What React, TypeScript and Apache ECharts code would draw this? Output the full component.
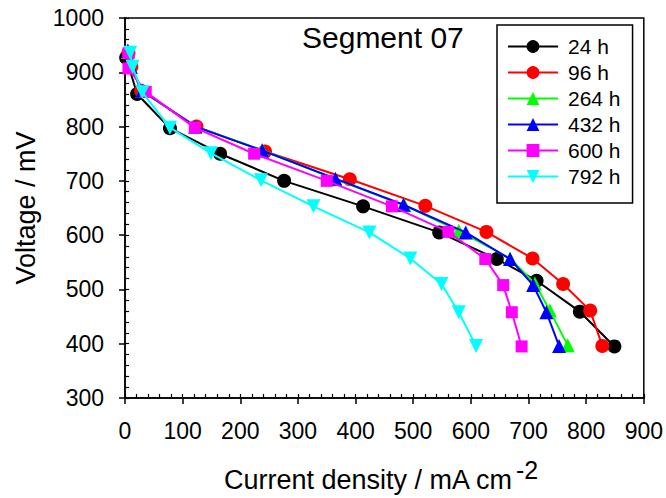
import React, { useEffect, useRef } from "react";
import * as echarts from "echarts";

const seriesNames = ["24 h", "96 h", "264 h", "432 h", "600 h", "792 h"];
const seriesColors = ["#000000", "#ff0000", "#00ff00", "#0000ff", "#ff00ff", "#00ffff"];
const seriesSymbols = ["circle", "circle", "triangle", "triangle", "rect", "triangle"];
const seriesRotate = [0, 0, 0, 0, 0, 180];
const seriesSymbolSize = [14, 14, 14, 14, 12, 14];

const d24: number[][] = [[2, 927], [21, 860], [78, 797], [165, 750], [276, 700], [413, 653], [545, 605], [645, 556], [714, 516], [789, 459], [849, 395]];
const d96: number[][] = [[6, 936], [11, 910], [28, 866], [124, 800], [243, 754], [390, 703], [521, 654], [627, 606], [707, 557], [760, 510], [807, 461], [828, 396]];
const d264: number[][] = [[5, 938], [10, 910], [30, 866], [122, 800], [238, 757], [365, 703], [485, 655], [579, 608], [668, 557], [711, 511], [737, 461], [768, 397]];
const d432: number[][] = [[5, 940], [10, 910], [30, 866], [122, 800], [238, 756], [365, 704], [483, 656], [591, 605], [668, 556], [708, 508], [731, 458], [753, 396]];
const d600: number[][] = [[6, 935], [6, 907], [36, 864], [121, 798], [224, 750], [350, 700], [463, 653], [561, 606], [625, 556], [656, 508], [671, 458], [688, 395]];
const d792: number[][] = [[9, 936], [13, 910], [30, 863], [78, 798], [149, 751], [236, 701], [327, 653], [424, 605], [495, 557], [549, 510], [579, 458], [609, 396]];
const seriesData = [d24, d96, d264, d432, d600, d792];

const xMin = 0, xMax = 900, xStep = 100, xMinorStep = 20;
const yMin = 300, yMax = 1000, yStep = 100, yMinorStep = 20;

const titleText = "Segment 07";
const xTitle = "Current density / mA cm";
const xTitleSup = "-2";
const yTitle = "Voltage / mV";

const FONT = "'Liberation Sans', Arial, sans-serif";

export default function App() {
  const ref = useRef<HTMLDivElement>(null);
  useEffect(() => {
    if (!ref.current) return;
    const chart = echarts.init(ref.current, null, { renderer: "svg" });
    const axisLineStyle = { color: "#000", width: 1.5 };
    const option: any = {
      animation: false,
      backgroundColor: "#fff",
      grid: { left: 125, top: 18, right: 22, bottom: 100, show: true, borderColor: "#000", borderWidth: 1.5, backgroundColor: "transparent" },
      xAxis: [
        {
          type: "value", min: xMin, max: xMax, interval: xStep,
          axisLine: { show: true, onZero: false, lineStyle: axisLineStyle },
          axisTick: { show: true, inside: false, length: 6, lineStyle: axisLineStyle },
          axisLabel: { color: "#000", fontSize: 23, fontFamily: FONT, margin: 21, formatter: (v: number) => String(v) },
          splitLine: { show: false },
        },
        {
          type: "value", min: xMin, max: xMax, interval: xMinorStep, position: "bottom", offset: 0,
          axisLine: { show: false, onZero: false },
          axisTick: { show: true, inside: true, length: 4, lineStyle: { color: "#000", width: 1.2 } },
          axisLabel: { show: false },
          splitLine: { show: false },
        },
      ],
      yAxis: [
        {
          type: "value", min: yMin, max: yMax, interval: yStep,
          axisLine: { show: true, onZero: false, lineStyle: axisLineStyle },
          axisTick: { show: true, inside: false, length: 6, lineStyle: axisLineStyle },
          axisLabel: { color: "#000", fontSize: 23, fontFamily: FONT, margin: 21, formatter: (v: number) => String(v) },
          splitLine: { show: false },
        },
        {
          type: "value", min: yMin, max: yMax, interval: yMinorStep, position: "left", offset: 0,
          axisLine: { show: false, onZero: false },
          axisTick: { show: true, inside: true, length: 4, lineStyle: { color: "#000", width: 1.2 } },
          axisLabel: { show: false },
          splitLine: { show: false },
        },
      ],
      legend: {
        orient: "vertical",
        left: 497,
        top: 25,
        data: seriesNames,
        itemWidth: 50,
        itemHeight: 16,
        itemGap: 5,
        padding: [11, 12, 16, 10],
        borderColor: "#000",
        borderWidth: 1.5,
        backgroundColor: "#fff",
        textStyle: { color: "#000", fontSize: 21, fontFamily: FONT, lineHeight: 21, padding: [0, 0, 0, 5] },
      },
      graphic: [
        {
          type: "text", left: 302, top: 22, z: 100,
          style: { text: titleText, font: `30px ${FONT}`, fill: "#000" },
        },
        {
          type: "text", left: 224, top: 466, z: 100,
          style: { text: xTitle, font: `27px ${FONT}`, fill: "#000" },
        },
        {
          type: "text", left: 516, top: 457, z: 100,
          style: { text: xTitleSup, font: `25px ${FONT}`, fill: "#000" },
        },
        {
          type: "text", x: 26, y: 208, rotation: Math.PI / 2, z: 100,
          style: { text: yTitle, font: `27px ${FONT}`, fill: "#000", textAlign: "center", textVerticalAlign: "middle" },
        },
      ],
      series: seriesNames.map((name, i) => ({
        name,
        type: "line",
        xAxisIndex: 0,
        yAxisIndex: 0,
        data: seriesData[i],
        symbol: seriesSymbols[i],
        symbolRotate: seriesRotate[i],
        symbolSize: seriesSymbolSize[i],
        showAllSymbol: true,
        lineStyle: { color: seriesColors[i], width: 2 },
        itemStyle: { color: seriesColors[i], borderWidth: 0 },
        z: 2 + i,
      })),
    };
    chart.setOption(option);
    return () => chart.dispose();
  }, []);
  return <div ref={ref} style={{ position: "fixed", left: 0, top: 0, width: 666, height: 498 }} />;
}
